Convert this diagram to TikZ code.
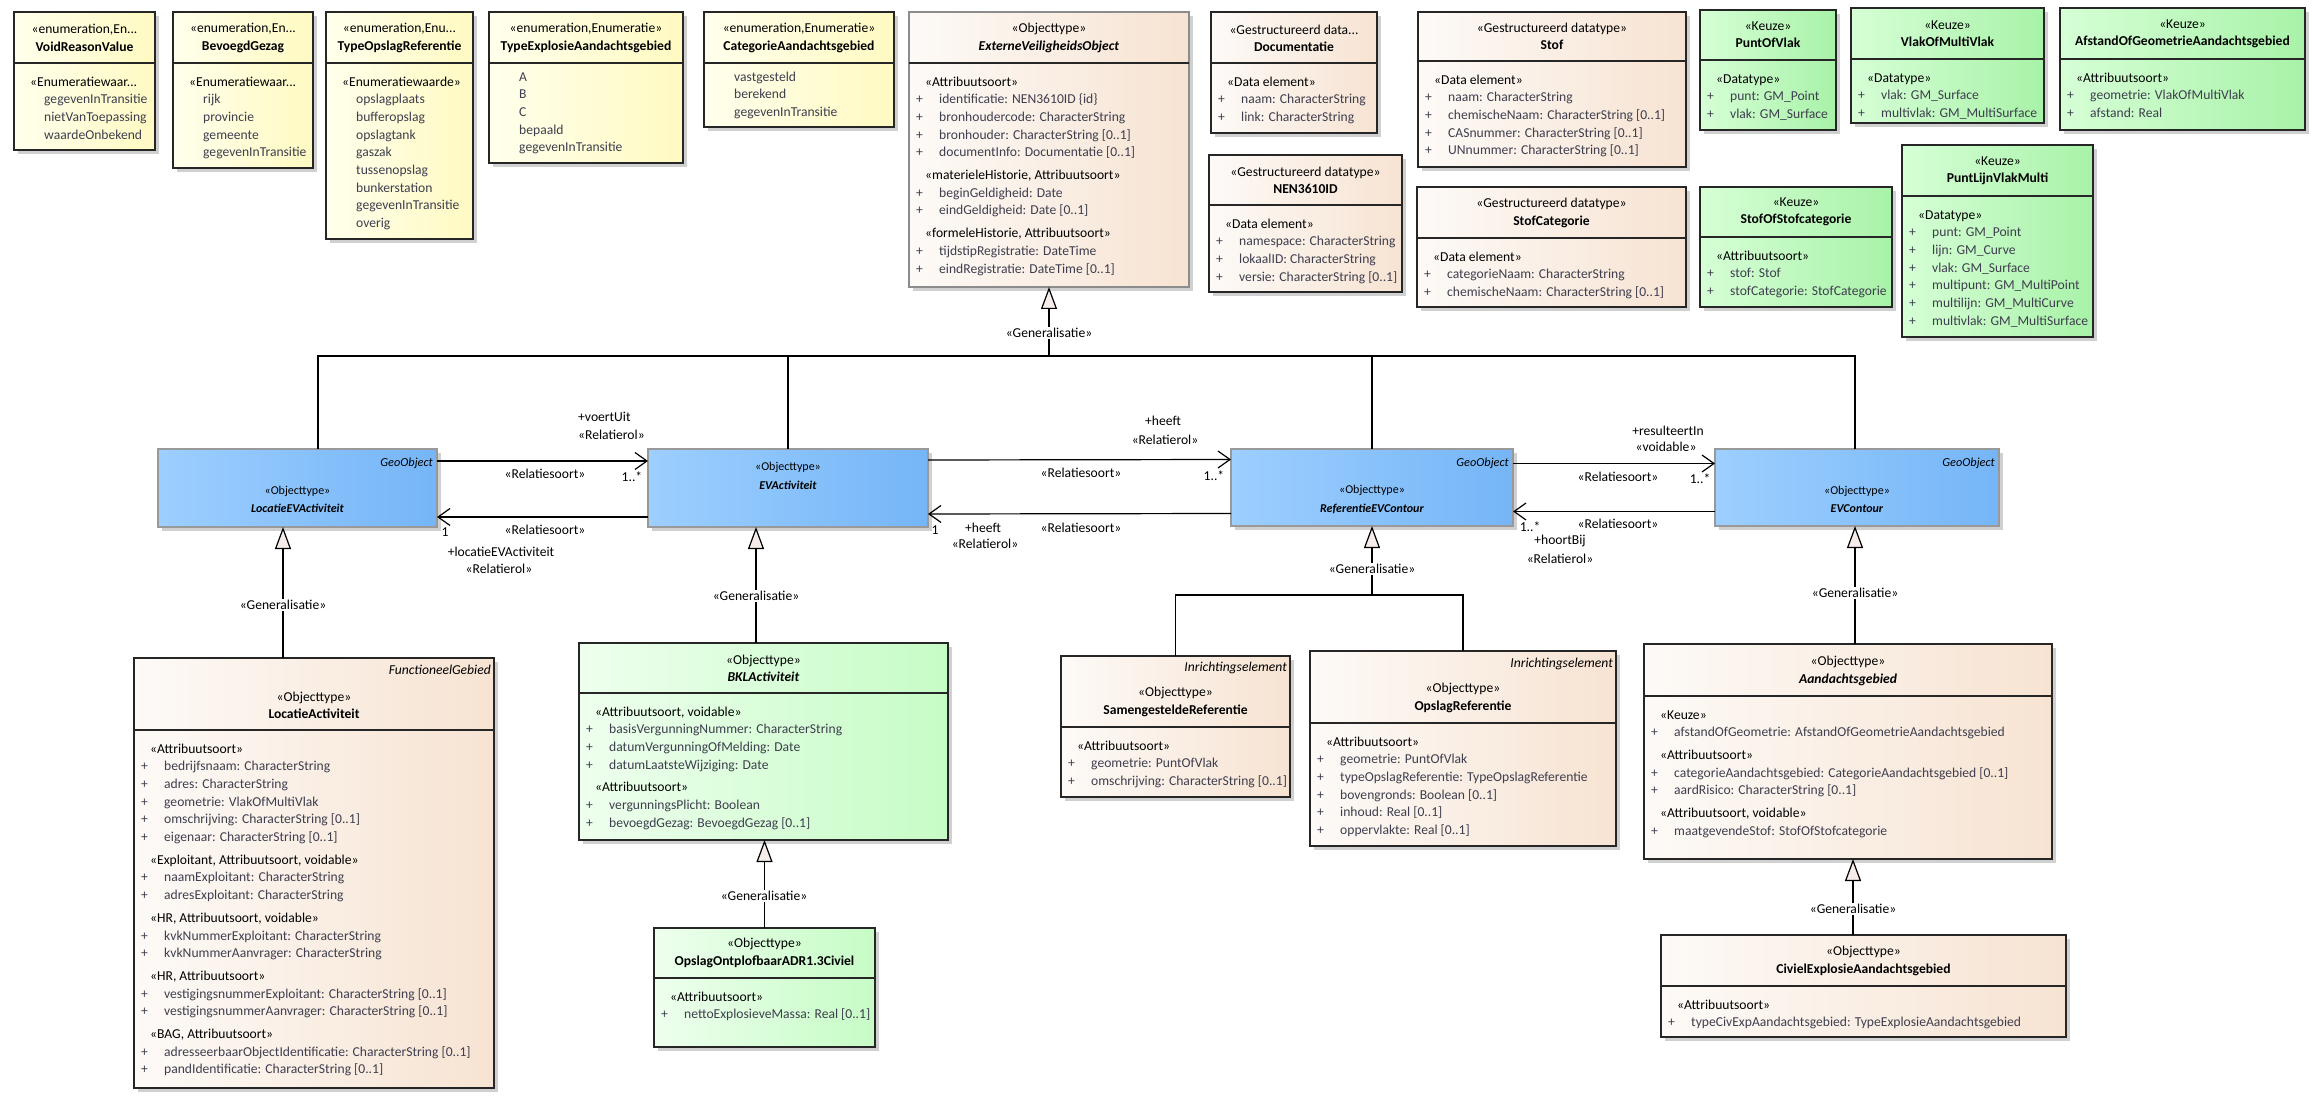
\documentclass[tikz,border=0pt]{standalone}
\usepackage{fontspec}
\setmainfont{Carlito}
\usetikzlibrary{arrows.meta,shadows}

\definecolor{peachL}{RGB}{253,250,247}
\definecolor{peachR}{RGB}{247,227,210}
\definecolor{blueL}{RGB}{157,207,255}
\definecolor{blueR}{RGB}{117,181,247}
\definecolor{greenL}{RGB}{238,255,238}
\definecolor{greenR}{RGB}{198,252,198}
\definecolor{keuzeL}{RGB}{214,255,214}
\definecolor{keuzeR}{RGB}{168,242,168}
\definecolor{yellowL}{RGB}{255,255,236}
\definecolor{yellowR}{RGB}{255,250,194}
\definecolor{attrgray}{RGB}{62,62,78}
\definecolor{genfill}{RGB}{246,236,234}
\definecolor{shadowgray}{RGB}{208,208,208}

% body lines of a class box
\newcommand{\umlster}[1]{\strut\hspace*{9pt}#1}
\newcommand{\umlattr}[1]{\strut{\color{attrgray}\makebox[23pt][l]{+}#1}}
\newcommand{\umllit}[1]{\strut\hspace*{23pt}{\color{attrgray}#1}}

% name, style, x0, y0, x1, y1, divider y, header, body
\newcommand{\umlbox}[9]{%
  \node[#2, anchor=north west, minimum width={#5-#3}, minimum height={#6-#4}] (#1) at (#3,#4) {};
  \draw[divline] (#3,#7) -- (#5,#7);
  \node[hdrtext] (#1-hdr) at ({(#3+#5)/2},{#7-25}) {#8};
  \node[bodytext] (#1-body) at ({#3+7},{#7+10.5}) {#9};
}

\tikzset{
  umlbase/.style={draw=black!85, line width=1.2pt, inner sep=0pt, outer sep=0pt,
    drop shadow={shadow xshift=4pt, shadow yshift=-4pt, fill=shadowgray, opacity=1}},
  peachbox/.style={umlbase, left color=peachL, right color=peachR},
  absbox/.style={peachbox, draw=black!45},
  yellowbox/.style={umlbase, left color=yellowL, right color=yellowR},
  greenbox/.style={umlbase, left color=greenL, right color=greenR},
  keuzebox/.style={umlbase, left color=keuzeL, right color=keuzeR},
  objbox/.style={umlbase, draw=black!40, left color=blueL, right color=blueR},
  divline/.style={line width=1.2pt, draw=black!85},
  hdrtext/.style={align=center, inner sep=0pt, font=\fontsize{13.6}{17.3}\selectfont},
  bodytext/.style={anchor=north west, align=left, inner sep=0pt, font=\fontsize{13.6}{17.7}\selectfont},
  objtext/.style={align=center, inner sep=0pt, font=\fontsize{12}{18.5}\selectfont},
  tagtext/.style={anchor=east, inner sep=0pt, font=\itshape\fontsize{13.6}{16}\selectfont},
  geotag/.style={anchor=east, inner sep=0pt, font=\itshape\fontsize{12.3}{15}\selectfont},
  rlabel/.style={inner sep=0pt, font=\fontsize{13.6}{16}\selectfont},
  genlabel/.style={fill=white, inner sep=1.5pt, font=\fontsize{13.6}{16}\selectfont},
  conn/.style={line width=1.2pt, draw=black},
  assoc/.style={conn, -{Straight Barb[length=12pt, width=17pt, line width=1.2pt]}},
  gen/.style={conn, -{Triangle[length=22pt, width=16pt, fill=genfill, line width=1.2pt]}}
}

\begin{document}
\begin{tikzpicture}[x=1pt, y=-1pt]
\fill[white] (0,0) rectangle (2324,1107);
\useasboundingbox (0,0) rectangle (2324,1107);

% enumerations
\umlbox{voidreason}{yellowbox}{14}{12}{155}{150}{63}
  {«enumeration,En...\\\textbf{VoidReasonValue}}
  {\umlster{«Enumeratiewaar...}\\\umllit{gegevenInTransitie}\\\umllit{nietVanToepassing}\\\umllit{waardeOnbekend}}
\umlbox{bevgezag}{yellowbox}{173}{12}{313}{168}{63}
  {«enumeration,En...\\\textbf{BevoegdGezag}}
  {\umlster{«Enumeratiewaar...}\\\umllit{rijk}\\\umllit{provincie}\\\umllit{gemeente}\\\umllit{gegevenInTransitie}}
\umlbox{typeopslag}{yellowbox}{326}{12}{473}{239}{63}
  {«enumeration,Enu...\\\textbf{TypeOpslagReferentie}}
  {\umlster{«Enumeratiewaarde»}\\\umllit{opslagplaats}\\\umllit{bufferopslag}\\\umllit{opslagtank}\\\umllit{gaszak}\\\umllit{tussenopslag}\\\umllit{bunkerstation}\\\umllit{gegevenInTransitie}\\\umllit{overig}}
\begin{scope}[bodytext/.append style={yshift=5pt}]
\umlbox{typeexpl}{yellowbox}{489}{12}{683}{163}{63}
  {«enumeration,Enumeratie»\\\textbf{TypeExplosieAandachtsgebied}}
  {\umllit{A}\\\umllit{B}\\\umllit{C}\\\umllit{bepaald}\\\umllit{gegevenInTransitie}}
\umlbox{catgebied}{yellowbox}{704}{12}{894}{127}{63}
  {«enumeration,Enumeratie»\\\textbf{CategorieAandachtsgebied}}
  {\umllit{vastgesteld}\\\umllit{berekend}\\\umllit{gegevenInTransitie}}
\end{scope}

% top row
\umlbox{evo}{absbox}{909}{12}{1189}{287}{63}
  {«Objecttype»\\\textbf{\textit{ExterneVeiligheidsObject}}}
  {\umlster{«Attribuutsoort»}\\\umlattr{identificatie: NEN3610ID \{id\}}\\\umlattr{bronhoudercode: CharacterString}\\\umlattr{bronhouder: CharacterString [0..1]}\\\umlattr{documentInfo: Documentatie [0..1]}\\[5pt]
   \umlster{«materieleHistorie, Attribuutsoort»}\\\umlattr{beginGeldigheid: Date}\\\umlattr{eindGeldigheid: Date [0..1]}\\[5pt]
   \umlster{«formeleHistorie, Attribuutsoort»}\\\umlattr{tijdstipRegistratie: DateTime}\\\umlattr{eindRegistratie: DateTime [0..1]}}
\umlbox{docu}{peachbox}{1211}{12}{1377}{133}{63}
  {«Gestructureerd data...\\\textbf{Documentatie}}
  {\umlster{«Data element»}\\\umlattr{naam: CharacterString}\\\umlattr{link: CharacterString}}
\umlbox{nenid}{peachbox}{1209}{155}{1402}{292}{205}
  {«Gestructureerd datatype»\\\textbf{NEN3610ID}}
  {\umlster{«Data element»}\\\umlattr{namespace: CharacterString}\\\umlattr{lokaalID: CharacterString}\\\umlattr{versie: CharacterString [0..1]}}
\umlbox{stof}{peachbox}{1418}{12}{1686}{167}{61}
  {«Gestructureerd datatype»\\\textbf{Stof}}
  {\umlster{«Data element»}\\\umlattr{naam: CharacterString}\\\umlattr{chemischeNaam: CharacterString [0..1]}\\\umlattr{CASnummer: CharacterString [0..1]}\\\umlattr{UNnummer: CharacterString [0..1]}}
\umlbox{stofcat}{peachbox}{1417}{187}{1686}{307}{238}
  {«Gestructureerd datatype»\\\textbf{StofCategorie}}
  {\umlster{«Data element»}\\\umlattr{categorieNaam: CharacterString}\\\umlattr{chemischeNaam: CharacterString [0..1]}}
\umlbox{puntvlak}{keuzebox}{1700}{10}{1836}{130}{60}
  {«Keuze»\\\textbf{PuntOfVlak}}
  {\umlster{«Datatype»}\\\umlattr{punt: GM\_Point}\\\umlattr{vlak: GM\_Surface}}
\umlbox{vlakmulti}{keuzebox}{1851}{8}{2044}{123}{59}
  {«Keuze»\\\textbf{VlakOfMultiVlak}}
  {\umlster{«Datatype»}\\\umlattr{vlak: GM\_Surface}\\\umlattr{multivlak: GM\_MultiSurface}}
\umlbox{afstgeo}{keuzebox}{2060}{8}{2305}{130}{59}
  {«Keuze»\\\textbf{AfstandOfGeometrieAandachtsgebied}}
  {\umlster{«Attribuutsoort»}\\\umlattr{geometrie: VlakOfMultiVlak}\\\umlattr{afstand: Real}}
\umlbox{stofofcat}{keuzebox}{1700}{187}{1892}{307}{237}
  {«Keuze»\\\textbf{StofOfStofcategorie}}
  {\umlster{«Attribuutsoort»}\\\umlattr{stof: Stof}\\\umlattr{stofCategorie: StofCategorie}}
\umlbox{puntlijn}{keuzebox}{1902}{145}{2093}{337}{196}
  {«Keuze»\\\textbf{PuntLijnVlakMulti}}
  {\umlster{«Datatype»}\\\umlattr{punt: GM\_Point}\\\umlattr{lijn: GM\_Curve}\\\umlattr{vlak: GM\_Surface}\\\umlattr{multipunt: GM\_MultiPoint}\\\umlattr{multilijn: GM\_MultiCurve}\\\umlattr{multivlak: GM\_MultiSurface}}

% geo objects
\node[objbox, anchor=north west, minimum width=279, minimum height=78] (locevact) at (158,449) {};
\node[objtext] (locevact-txt) at (297.5,499.5) {«Objecttype»\\\textbf{\textit{LocatieEVActiviteit}}};
\node[geotag] (locevact-tag) at (433,463) {GeoObject};
\node[objbox, anchor=north west, minimum width=280, minimum height=78] (evact) at (648,449) {};
\node[objtext] (evact-txt) at (788,476) {«Objecttype»\\\textbf{\textit{EVActiviteit}}};
\node[objbox, anchor=north west, minimum width=282, minimum height=77] (refevc) at (1231,449) {};
\node[objtext] (refevc-txt) at (1372,499.5) {«Objecttype»\\\textbf{\textit{ReferentieEVContour}}};
\node[geotag] (refevc-tag) at (1509,463) {GeoObject};
\node[objbox, anchor=north west, minimum width=284, minimum height=77] (evcontour) at (1715,449) {};
\node[objtext] (evcontour-txt) at (1857,499.5) {«Objecttype»\\\textbf{\textit{EVContour}}};
\node[geotag] (evcontour-tag) at (1995,463) {GeoObject};

% bottom row
\umlbox{locact}{peachbox}{134}{658}{494}{1088}{730}
  {«Objecttype»\\\textbf{LocatieActiviteit}}
  {\umlster{«Attribuutsoort»}\\\umlattr{bedrijfsnaam: CharacterString}\\\umlattr{adres: CharacterString}\\\umlattr{geometrie: VlakOfMultiVlak}\\\umlattr{omschrijving: CharacterString [0..1]}\\\umlattr{eigenaar: CharacterString [0..1]}\\[5pt]
   \umlster{«Exploitant, Attribuutsoort, voidable»}\\\umlattr{naamExploitant: CharacterString}\\\umlattr{adresExploitant: CharacterString}\\[5pt]
   \umlster{«HR, Attribuutsoort, voidable»}\\\umlattr{kvkNummerExploitant: CharacterString}\\\umlattr{kvkNummerAanvrager: CharacterString}\\[5pt]
   \umlster{«HR, Attribuutsoort»}\\\umlattr{vestigingsnummerExploitant: CharacterString [0..1]}\\\umlattr{vestigingsnummerAanvrager: CharacterString [0..1]}\\[5pt]
   \umlster{«BAG, Attribuutsoort»}\\\umlattr{adresseerbaarObjectIdentificatie: CharacterString [0..1]}\\\umlattr{pandIdentificatie: CharacterString [0..1]}}
\node[tagtext] (locact-tag) at (491,670) {FunctioneelGebied};
\umlbox{bkl}{greenbox}{579}{643}{948}{840}{693}
  {«Objecttype»\\\textbf{\textit{BKLActiviteit}}}
  {\umlster{«Attribuutsoort, voidable»}\\\umlattr{basisVergunningNummer: CharacterString}\\\umlattr{datumVergunningOfMelding: Date}\\\umlattr{datumLaatsteWijziging: Date}\\[5pt]
   \umlster{«Attribuutsoort»}\\\umlattr{vergunningsPlicht: Boolean}\\\umlattr{bevoegdGezag: BevoegdGezag [0..1]}}
\umlbox{adr}{greenbox}{654}{928}{875}{1047}{978}
  {«Objecttype»\\\textbf{OpslagOntplofbaarADR1.3Civiel}}
  {\umlster{«Attribuutsoort»}\\\umlattr{nettoExplosieveMassa: Real [0..1]}}
\umlbox{sameng}{peachbox}{1061}{656}{1290}{797}{727}
  {«Objecttype»\\\textbf{SamengesteldeReferentie}}
  {\umlster{«Attribuutsoort»}\\\umlattr{geometrie: PuntOfVlak}\\\umlattr{omschrijving: CharacterString [0..1]}}
\node[tagtext] (sameng-tag) at (1287,668) {Inrichtingselement};
\umlbox{opslagref}{peachbox}{1310}{651}{1616}{846}{723}
  {«Objecttype»\\\textbf{OpslagReferentie}}
  {\umlster{«Attribuutsoort»}\\\umlattr{geometrie: PuntOfVlak}\\\umlattr{typeOpslagReferentie: TypeOpslagReferentie}\\\umlattr{bovengronds: Boolean [0..1]}\\\umlattr{inhoud: Real [0..1]}\\\umlattr{oppervlakte: Real [0..1]}}
\node[tagtext] (opslagref-tag) at (1613,664) {Inrichtingselement};
\umlbox{aandacht}{peachbox}{1644}{644}{2052}{859}{696}
  {«Objecttype»\\\textbf{\textit{Aandachtsgebied}}}
  {\umlster{«Keuze»}\\\umlattr{afstandOfGeometrie: AfstandOfGeometrieAandachtsgebied}\\[5pt]
   \umlster{«Attribuutsoort»}\\\umlattr{categorieAandachtsgebied: CategorieAandachtsgebied [0..1]}\\\umlattr{aardRisico: CharacterString [0..1]}\\[5pt]
   \umlster{«Attribuutsoort, voidable»}\\\umlattr{maatgevendeStof: StofOfStofcategorie}}
\umlbox{civiel}{peachbox}{1661}{935}{2066}{1037}{986}
  {«Objecttype»\\\textbf{CivielExplosieAandachtsgebied}}
  {\umlster{«Attribuutsoort»}\\\umlattr{typeCivExpAandachtsgebied: TypeExplosieAandachtsgebied}}

% generalisations
\coordinate (gentop) at (1049,356);
\draw[conn] ([xshift=20.5pt]locevact.north) |- (gentop);
\draw[conn] (evact.north) |- (gentop);
\draw[conn] (refevc.north) |- (gentop);
\draw[conn] ([xshift=-2pt]evcontour.north) |- (gentop);
\draw[gen] (gentop) -- (evo.south);
\node[genlabel] (evo-gl) at (1049,333) {«Generalisatie»};

\draw[gen] ([xshift=-31pt]locact.north) -- ([xshift=-14.5pt]locevact.south);
\node[genlabel] (locact-gl) at (283,605) {«Generalisatie»};
\draw[gen] ([xshift=-7.5pt]bkl.north) -- ([xshift=-32pt]evact.south);
\node[genlabel] (bkl-gl) at (756,596) {«Generalisatie»};
\draw[gen] (adr.north) -- (adr.north |- bkl.south);
\node[genlabel] (adr-gl) at (764,896) {«Generalisatie»};

\coordinate (refgen) at (1372,595);
\draw[conn] (sameng.north) |- (refgen);
\draw[conn] (opslagref.north) |- (refgen);
\draw[gen] (refgen) -- (refevc.south);
\node[genlabel] (refevc-gl) at (1372,569) {«Generalisatie»};
\draw[gen] ([xshift=7pt]aandacht.north) -- ([xshift=-2pt]evcontour.south);
\node[genlabel] (aandacht-gl) at (1855,593) {«Generalisatie»};
\draw[gen] ([xshift=-10.5pt]civiel.north) -- ([xshift=5pt]aandacht.south);
\node[genlabel] (civiel-gl) at (1853,909) {«Generalisatie»};

% associations
\draw[assoc] ([yshift=27pt]locevact.east) -- ([yshift=27pt]evact.west);
\draw[assoc] ([yshift=-29pt]evact.west) -- ([yshift=-29pt]locevact.east);
\draw[assoc] ([yshift=28pt]evact.east) -- ([yshift=28pt]refevc.west);
\draw[assoc] ([yshift=-26pt]refevc.west) -- ([yshift=-26pt]evact.east);
\draw[assoc] ([yshift=24pt]refevc.east) -- ([yshift=24pt]evcontour.west);
\draw[assoc] ([yshift=-24pt]evcontour.west) -- ([yshift=-24pt]refevc.east);

\node[rlabel, anchor=west] (voertuit) at (578,417) {+voertUit};
\node[rlabel, anchor=west] (voertuit-st) at (578,435) {«Relatierol»};
\node[rlabel] (rs1) at (545,474) {«Relatiesoort»};
\node[rlabel] (m1) at (632,477) {1..*};
\node[rlabel] (rs2) at (545,530) {«Relatiesoort»};
\node[rlabel] (m2) at (445,532) {1};
\node[rlabel] (locrol) at (501,552) {+locatieEVActiviteit};
\node[rlabel] (locrol-st) at (499,569) {«Relatierol»};

\node[rlabel] (heeft1) at (1163,421) {+heeft};
\node[rlabel] (heeft1-st) at (1165,440) {«Relatierol»};
\node[rlabel] (rs3) at (1081,473) {«Relatiesoort»};
\node[rlabel] (m3) at (1214,476) {1..*};
\node[rlabel] (rs4) at (1081,528) {«Relatiesoort»};
\node[rlabel] (m4) at (935,530) {1};
\node[rlabel] (heeft2) at (983,528) {+heeft};
\node[rlabel] (heeft2-st) at (985,544) {«Relatierol»};

\node[rlabel] (result) at (1668,431) {+resulteertIn};
\node[rlabel] (result-st) at (1666,447) {«voidable»};
\node[rlabel] (rs5) at (1618,477) {«Relatiesoort»};
\node[rlabel] (m5) at (1700,479) {1..*};
\node[rlabel] (rs6) at (1618,524) {«Relatiesoort»};
\node[rlabel] (m6) at (1530,527) {1..*};
\node[rlabel] (hoort) at (1560,541) {+hoortBij};
\node[rlabel] (hoort-st) at (1560,559) {«Relatierol»};
\end{tikzpicture}
\end{document}
